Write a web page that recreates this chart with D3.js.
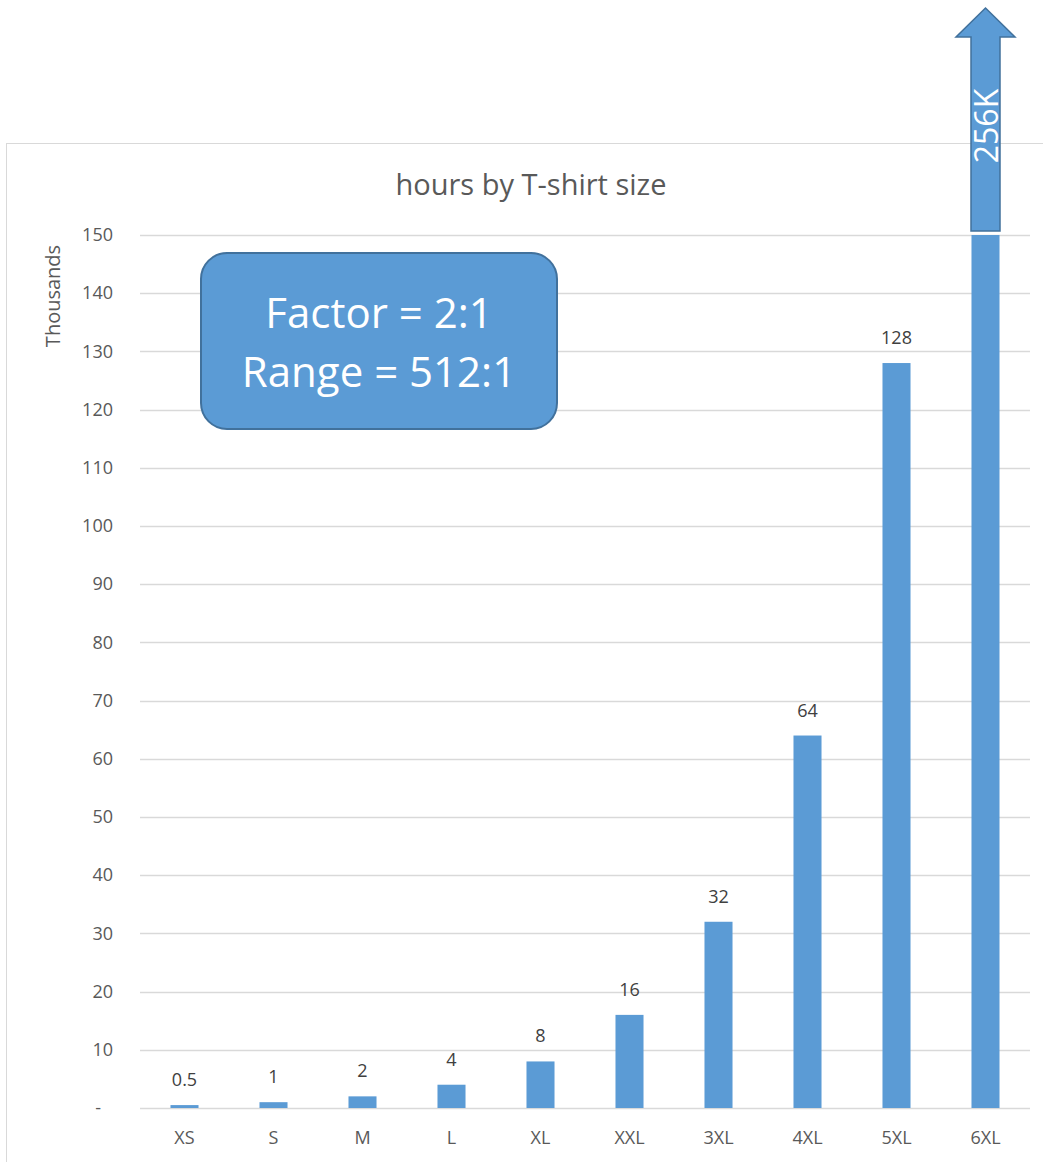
<!DOCTYPE html>
<html>
<head>
<meta charset="utf-8">
<script src="https://cdn.jsdelivr.net/npm/d3@7"></script>
<style>
  html, body { margin: 0; padding: 0; background: #fff; }
  svg { display: block; font-family: "Open Sans", "Noto Sans", sans-serif; }
</style>
</head>
<body>
<svg id="chart" width="1043" height="1162"></svg>
<script>
// Hours per T-shirt size, in thousands
const sizes = ["XS", "S", "M", "L", "XL", "XXL", "3XL", "4XL", "5XL", "6XL"];
const hours = [0.5, 1, 2, 4, 8, 16, 32, 64, 128, 256];
const valueLabels = ["0.5", "1", "2", "4", "8", "16", "32", "64", "128", "256K"];
const yTicks = [0, 10, 20, 30, 40, 50, 60, 70, 80, 90, 100, 110, 120, 130, 140, 150];
const calloutLines = ["Factor = 2:1", "Range = 512:1"];
const chartTitle = "hours by T-shirt size";
const unitsLabel = "Thousands";

const blue = "#5b9bd5";
const blueEdge = "#41719c";
const grid = "#d9d9d9";
const textGrey = "#595959";
const smallFont = 18;

const svg = d3.select("#chart");

// chart frame
svg.append("rect")
  .attr("x", 6.5).attr("y", 143.5)
  .attr("width", 1060).attr("height", 1060)
  .attr("fill", "#fff").attr("stroke", grid).attr("stroke-width", 1);

const plot = { left: 140, right: 1030, top: 235, bottom: 1108 };
const yMax = 150;

const x = d3.scaleBand().domain(sizes).range([plot.left, plot.right]).paddingInner(0.685).paddingOuter(0.3425);
const y = d3.scaleLinear().domain([0, yMax]).range([plot.bottom, plot.top]);

// title
svg.append("text")
  .attr("x", 531).attr("y", 195)
  .attr("text-anchor", "middle")
  .attr("font-size", 29).attr("fill", textGrey)
  .text(chartTitle);

// gridlines
svg.append("g")
  .selectAll("line").data(yTicks).join("line")
  .attr("x1", plot.left).attr("x2", plot.right)
  .attr("y1", d => Math.round(y(d)) + 0.5).attr("y2", d => Math.round(y(d)) + 0.5)
  .attr("stroke", grid).attr("stroke-width", 1.3);

// y axis
const yAxis = svg.append("g")
  .attr("transform", `translate(${plot.left - 27},0)`)
  .call(d3.axisLeft(y).tickValues(yTicks).tickSize(0).tickPadding(0)
    .tickFormat(d => d === 0 ? "-" : d3.format("d")(d)));
yAxis.select(".domain").remove();
yAxis.selectAll("text")
  .attr("font-size", smallFont).attr("fill", textGrey)
  .attr("font-family", "Open Sans, Noto Sans, sans-serif")
  .attr("dx", d => d === 0 ? -12 : 0);

// display units label
svg.append("text")
  .attr("transform", "translate(60,296) rotate(-90)")
  .attr("text-anchor", "middle")
  .attr("font-size", 20).attr("fill", textGrey)
  .text(unitsLabel);

// x axis
const xAxis = svg.append("g")
  .attr("transform", `translate(0,${plot.bottom})`)
  .call(d3.axisBottom(x).tickSize(0).tickPadding(23));
xAxis.select(".domain").remove();
xAxis.selectAll("text")
  .attr("font-size", smallFont).attr("fill", textGrey)
  .attr("font-family", "Open Sans, Noto Sans, sans-serif");

// bars (clipped at the axis maximum)
const bars = sizes.map((s, i) => ({ size: s, value: hours[i], label: valueLabels[i] }));
svg.append("g")
  .selectAll("rect").data(bars).join("rect")
  .attr("x", d => x(d.size))
  .attr("width", x.bandwidth())
  .attr("y", d => y(Math.min(d.value, yMax)))
  .attr("height", d => y(0) - y(Math.min(d.value, yMax)))
  .attr("fill", blue);

// value labels above bars that fit within the axis
svg.append("g")
  .selectAll("text").data(bars.filter(d => d.value <= yMax)).join("text")
  .attr("x", d => x(d.size) + x.bandwidth() / 2)
  .attr("y", d => y(d.value) - 19)
  .attr("text-anchor", "middle")
  .attr("font-size", smallFont).attr("fill", "#404040")
  .text(d => d.label);

// overflow arrow for bars that exceed the axis
const over = bars.filter(d => d.value > yMax);
over.forEach(d => {
  const cx = x(d.size) + x.bandwidth() / 2;
  const shaftHalf = 14.5, headHalf = 29.5;
  const base = y(yMax) - 4, headBase = 37, tip = 8;
  const path = d3.path();
  path.moveTo(cx - shaftHalf, base);
  path.lineTo(cx - shaftHalf, headBase);
  path.lineTo(cx - headHalf, headBase);
  path.lineTo(cx, tip);
  path.lineTo(cx + headHalf, headBase);
  path.lineTo(cx + shaftHalf, headBase);
  path.lineTo(cx + shaftHalf, base);
  path.closePath();
  svg.append("path").attr("d", path.toString())
    .attr("fill", blue).attr("stroke", blueEdge).attr("stroke-width", 1.5);
  svg.append("text")
    .attr("transform", `translate(${cx + 12},126) rotate(-90)`)
    .attr("text-anchor", "middle")
    .attr("font-size", 32).attr("fill", "#fff")
    .text(d.label);
});

// callout box
const box = { x: 201, y: 253, w: 356, h: 176, r: 26 };
svg.append("rect")
  .attr("x", box.x).attr("y", box.y).attr("width", box.w).attr("height", box.h)
  .attr("rx", box.r).attr("ry", box.r)
  .attr("fill", blue).attr("stroke", blueEdge).attr("stroke-width", 2);
svg.append("g")
  .selectAll("text").data(calloutLines).join("text")
  .attr("x", box.x + box.w / 2)
  .attr("y", (d, i) => 328 + i * 59)
  .attr("text-anchor", "middle")
  .attr("font-size", 42).attr("fill", "#fff")
  .text(d => d);
</script>
</body>
</html>
